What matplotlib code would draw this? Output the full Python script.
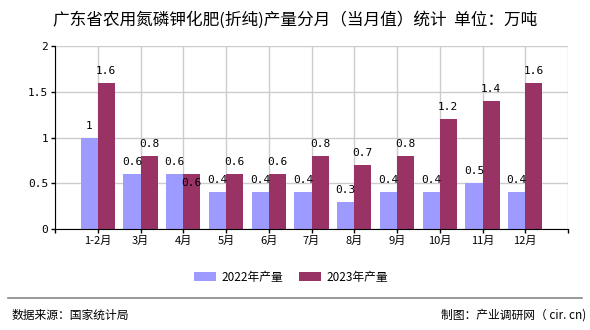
import matplotlib
matplotlib.use("Agg")
import matplotlib.pyplot as plt
import numpy as np

plt.rcParams['font.family'] = ['Noto Sans CJK SC', 'DejaVu Sans']

categories = ['1-2月', '3月', '4月', '5月', '6月', '7月', '8月', '9月', '10月', '11月', '12月']
values_2022 = [1, 0.6, 0.6, 0.4, 0.4, 0.4, 0.3, 0.4, 0.4, 0.5, 0.4]
values_2023 = [1.6, 0.8, 0.6, 0.6, 0.6, 0.8, 0.7, 0.8, 1.2, 1.4, 1.6]
series_names = ['2022年产量', '2023年产量']
title = '广东省农用氮磷钾化肥(折纯)产量分月（当月值）统计  单位：万吨'

c22 = '#9d9bff'
c23 = '#993366'

fig = plt.figure(figsize=(5.9, 3.3), dpi=100)
ax = fig.add_axes([55/590, (330-229)/330, (568-55)/590, (229-46)/330])

x = np.arange(len(categories))
w = 0.4
b1 = ax.bar(x - w/2, values_2022, w, color=c22, label=series_names[0], zorder=2)
b2 = ax.bar(x + w/2, values_2023, w, color=c23, label=series_names[1], zorder=2)

def fmt(v):
    return ('%g' % v)

for i, v in enumerate(values_2022):
    ax.annotate(fmt(v), (x[i] - w/2, v), xytext=(0, 5), textcoords='offset points',
                ha='center', va='bottom', fontsize=8, family='DejaVu Sans Mono', zorder=3)
for i, v in enumerate(values_2023):
    off = 5
    if i == 2:
        off = -10
    ax.annotate(fmt(v), (x[i] + w/2, v), xytext=(0, off), textcoords='offset points',
                ha='center', va='bottom', fontsize=8, family='DejaVu Sans Mono', zorder=3)

ax.set_xlim(-1, len(categories))
ax.set_ylim(0, 2)
ax.set_yticks([0, 0.5, 1, 1.5, 2])
ax.set_yticklabels(['0', '0.5', '1', '1.5', '2'], family='DejaVu Sans Mono', fontsize=8)
ax.set_xticks(np.arange(-1, len(categories) + 1))
ax.set_xticklabels([''] + categories + [''], fontsize=8)
ax.tick_params(axis='both', length=3, width=1, pad=2, colors='black')
ax.grid(True, color='#cccccc', linewidth=1, zorder=0)
ax.set_axisbelow(True)
for s in ['top', 'right']:
    ax.spines[s].set_visible(False)
ax.spines['left'].set_color('black')
ax.spines['bottom'].set_color('black')

fig.text(295/590, 1 - 20/330, title, ha='center', va='center', fontsize=12)

fig.legend(handles=[b1, b2], labels=series_names, loc='center', bbox_to_anchor=(291/590, 1 - 277/330),
           ncol=2, frameon=False, fontsize=8.5, handlelength=1.9, handleheight=0.9, columnspacing=1.3,
           handletextpad=0.45)

fig.add_artist(plt.Line2D([8/590, 582/590], [1 - 298/330, 1 - 298/330], color='#888888', linewidth=1.2))
fig.text(12/590, 1 - 315/330, '数据来源：国家统计局', ha='left', va='center', fontsize=8.5)
fig.text(586/590, 1 - 315/330, '制图：产业调研网（ cir. cn)', ha='right', va='center', fontsize=8.5)

fig.savefig('out.png', dpi=100)
